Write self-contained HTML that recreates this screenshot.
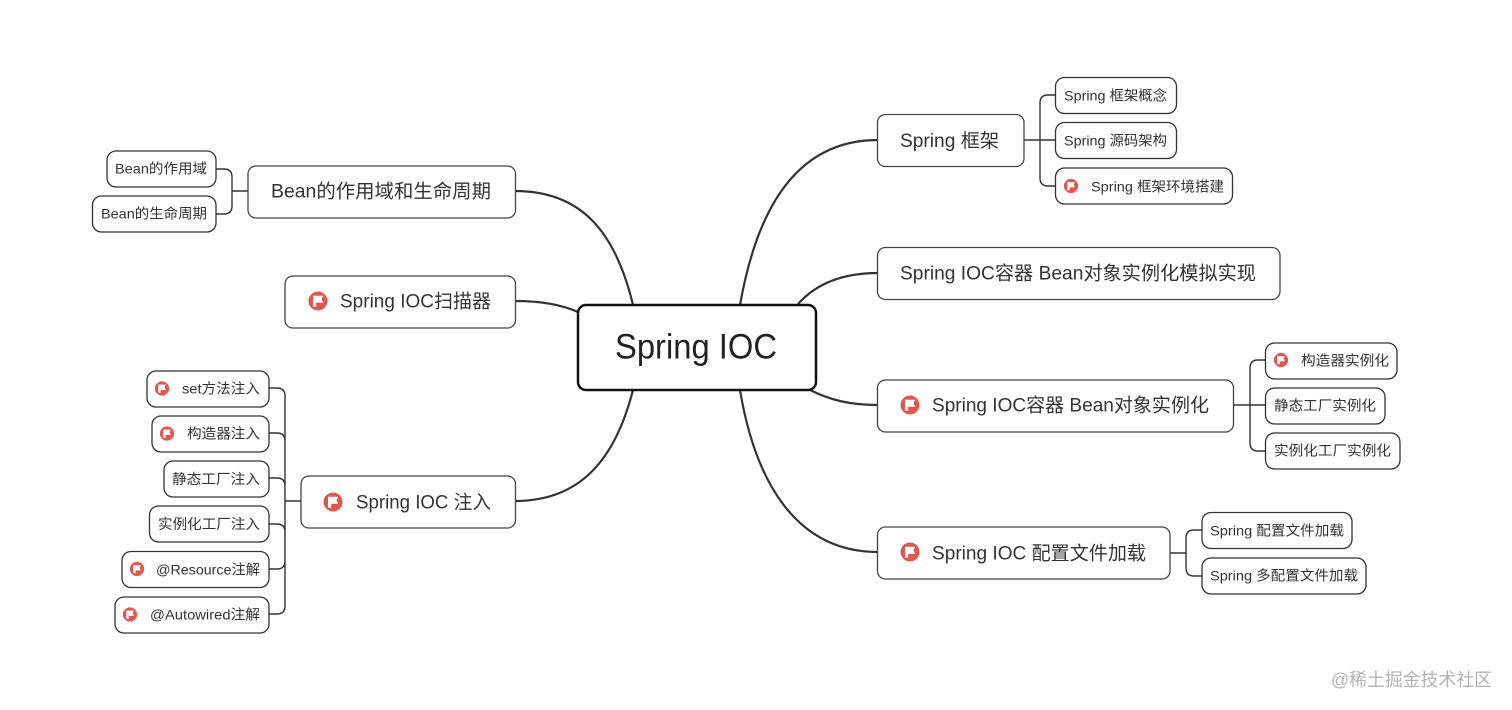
<!DOCTYPE html>
<html lang="zh">
<head>
<meta charset="utf-8">
<style>
html,body{margin:0;padding:0;background:#fff;width:1512px;height:710px;overflow:hidden}
svg{display:block}
text{font-family:"Liberation Sans","Noto Sans CJK SC",sans-serif;fill:#333;dominant-baseline:central}
.m rect{fill:#fff;stroke:#444;stroke-width:1.3}
.s rect{fill:#fff;stroke:#333;stroke-width:1.3}
.m text{font-size:19px}
.s text{font-size:14px}
.c{fill:none;stroke:#333;stroke-width:2.2}
.b{fill:none;stroke:#333;stroke-width:1.4}
</style>
</head>
<body>
<svg width="1512" height="710" viewBox="0 0 1512 710" xmlns="http://www.w3.org/2000/svg">
<defs>
<g id="f"><circle r="1" fill="#e2574c" transform="scale(9.5)"/><path d="M-5-5.2H5.200L3.400-1.700 5.200 1.800H-1.800V5.600H-5Z" fill="#fff"/></g>
</defs>

<!-- main connectors -->
<path class="c" d="M740 305C755 220 790 140 878 140"/>
<path class="c" d="M798 304C815 285 840 273 878 273"/>
<path class="c" d="M810 390C830 400 850 405 878 405"/>
<path class="c" d="M740 390C755 480 795 552 878 552"/>
<path class="c" d="M633 305C615 230 580 191 515 191"/>
<path class="c" d="M578 312C560 304 540 301 515 301"/>
<path class="c" d="M633 390C615 460 580 501 515 501"/>

<!-- brackets -->
<path class="b" d="M1024 140H1055M1055 95H1048Q1040 95 1040 103V178Q1040 186 1048 186H1055"/>
<path class="b" d="M1233 405H1265M1265 360H1258Q1250 360 1250 368V443Q1250 451 1258 451H1265"/>
<path class="b" d="M1170 553H1186M1202 530H1194Q1186 530 1186 538V568Q1186 576 1194 576H1202"/>
<path class="b" d="M248 191H232M216 169H224Q232 169 232 177V206Q232 214 224 214H216"/>
<path class="b" d="M301 501H285M269 388H277Q285 388 285 396V606Q285 614 277 614H269M269 433H277Q285 433 285 441M269 478H277Q285 478 285 486M269 524H277Q285 524 285 532M285 561Q285 569 277 569H269"/>

<!-- root -->
<rect x="578" y="305" width="238" height="85" rx="8" fill="#fff" stroke="#111" stroke-width="2.5"/>
<text x="615" y="347" font-size="35" textLength="162" lengthAdjust="spacingAndGlyphs" style="fill:#222">Spring IOC</text>

<!-- main nodes -->
<g class="m">
<rect x="877.5" y="114.5" width="146.5" height="52" rx="8"/>
<text x="900" y="141.500" textLength="99" lengthAdjust="spacingAndGlyphs">Spring 框架</text>
<rect x="877.5" y="247.5" width="402.5" height="52" rx="8"/>
<text x="900" y="274" textLength="356" lengthAdjust="spacingAndGlyphs">Spring IOC容器 Bean对象实例化模拟实现</text>
<rect x="877.5" y="380" width="356" height="52" rx="8"/>
<use href="#f" x="910" y="405"/>
<text x="932" y="406" textLength="277" lengthAdjust="spacingAndGlyphs">Spring IOC容器 Bean对象实例化</text>
<rect x="877.5" y="527" width="292.5" height="52" rx="8"/>
<use href="#f" x="910" y="552"/>
<text x="932" y="554" textLength="214" lengthAdjust="spacingAndGlyphs">Spring IOC 配置文件加载</text>
<rect x="248" y="166" width="267.5" height="52" rx="8"/>
<text x="271" y="192" textLength="220" lengthAdjust="spacingAndGlyphs">Bean的作用域和生命周期</text>
<rect x="285" y="276" width="230.5" height="52" rx="8"/>
<use href="#f" x="318" y="301"/>
<text x="340" y="302" textLength="151" lengthAdjust="spacingAndGlyphs">Spring IOC扫描器</text>
<rect x="301" y="476" width="214.5" height="52" rx="8"/>
<use href="#f" x="333" y="502"/>
<text x="356" y="503" textLength="135" lengthAdjust="spacingAndGlyphs">Spring IOC 注入</text>
</g>

<!-- sub nodes -->
<g class="s">
<rect x="1055.5" y="77.5" width="121" height="36" rx="9"/>
<text x="1064" y="95.500" textLength="103" lengthAdjust="spacingAndGlyphs">Spring 框架概念</text>
<rect x="1055.5" y="122.5" width="121" height="36" rx="9"/>
<text x="1064" y="140.500" textLength="103" lengthAdjust="spacingAndGlyphs">Spring 源码架构</text>
<rect x="1055.5" y="168" width="177" height="36" rx="9"/>
<use href="#f" transform="translate(1071 186) scale(.75)"/>
<text x="1091" y="186.500" textLength="133" lengthAdjust="spacingAndGlyphs">Spring 框架环境搭建</text>

<rect x="1265.5" y="343" width="131.5" height="36" rx="9"/>
<use href="#f" transform="translate(1281 360) scale(.75)"/>
<text x="1301" y="360.500" textLength="88" lengthAdjust="spacingAndGlyphs">构造器实例化</text>
<rect x="1265.5" y="388" width="119.5" height="36" rx="9"/>
<text x="1274" y="405.500" textLength="102" lengthAdjust="spacingAndGlyphs">静态工厂实例化</text>
<rect x="1265.5" y="433" width="134.5" height="36" rx="9"/>
<text x="1274" y="450.500" textLength="117" lengthAdjust="spacingAndGlyphs">实例化工厂实例化</text>

<rect x="1202" y="512.5" width="150" height="36" rx="9"/>
<text x="1210" y="530.500" textLength="134" lengthAdjust="spacingAndGlyphs">Spring 配置文件加载</text>
<rect x="1202" y="558" width="164" height="36" rx="9"/>
<text x="1210" y="575.500" textLength="148" lengthAdjust="spacingAndGlyphs">Spring 多配置文件加载</text>

<rect x="107" y="151" width="109" height="36" rx="9"/>
<text x="115" y="168.500" textLength="92" lengthAdjust="spacingAndGlyphs">Bean的作用域</text>
<rect x="92.5" y="196" width="123.5" height="36" rx="9"/>
<text x="101" y="213.500" textLength="106" lengthAdjust="spacingAndGlyphs">Bean的生命周期</text>

<rect x="147" y="371" width="122" height="36" rx="9"/>
<use href="#f" transform="translate(162 388.500) scale(.75)"/>
<text x="182" y="388.500" textLength="78" lengthAdjust="spacingAndGlyphs">set方法注入</text>
<rect x="152" y="416" width="117" height="36" rx="9"/>
<use href="#f" transform="translate(167 433.500) scale(.75)"/>
<text x="187" y="433.500" textLength="73" lengthAdjust="spacingAndGlyphs">构造器注入</text>
<rect x="164" y="461" width="105" height="36" rx="9"/>
<text x="172" y="479" textLength="88" lengthAdjust="spacingAndGlyphs">静态工厂注入</text>
<rect x="149.500" y="506" width="119.500" height="36" rx="9"/>
<text x="158" y="524" textLength="102" lengthAdjust="spacingAndGlyphs">实例化工厂注入</text>
<rect x="122" y="551.500" width="147" height="36" rx="9"/>
<use href="#f" transform="translate(137 569) scale(.75)"/>
<text x="156" y="569.500" textLength="104" lengthAdjust="spacingAndGlyphs">@Resource注解</text>
<rect x="115" y="597" width="154" height="36" rx="9"/>
<use href="#f" transform="translate(130 614.500) scale(.75)"/>
<text x="150" y="614.500" textLength="110" lengthAdjust="spacingAndGlyphs">@Autowired注解</text>
</g>

<!-- watermark -->
<text x="1331" y="680" font-size="18" textLength="161" lengthAdjust="spacingAndGlyphs" style="fill:#b4b4b4">@稀土掘金技术社区</text>
</svg>
</body>
</html>
